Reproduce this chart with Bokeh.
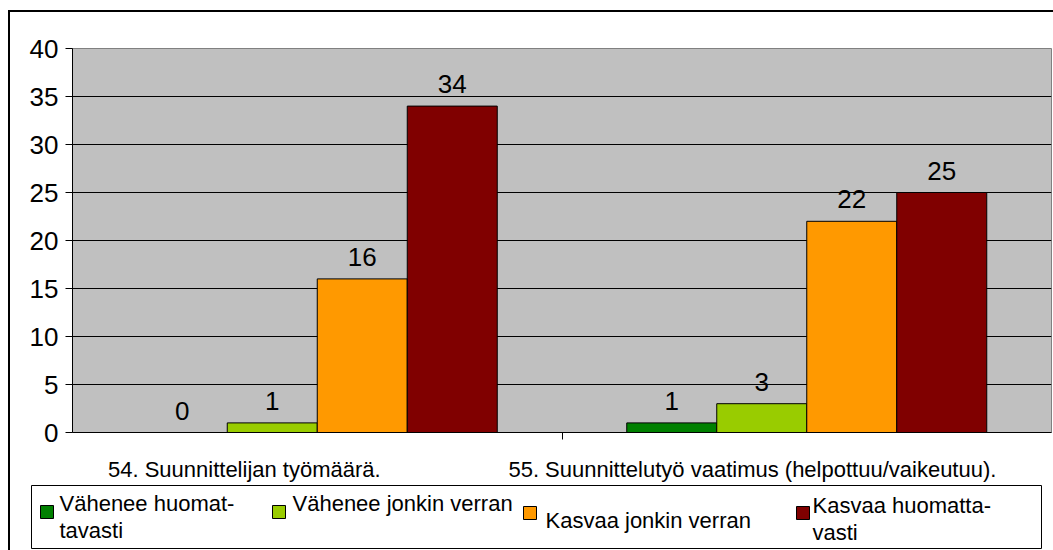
from bokeh.plotting import figure
from bokeh.models import Range1d, FixedTicker, ColumnDataSource
from bokeh.layouts import column
from bokeh.core.properties import value
from bokeh.embed import file_html
from bokeh.resources import INLINE

# ---------------- data ----------------
categories = ["54. Suunnittelijan työmäärä.",
              "55. Suunnittelutyö vaatimus (helpottuu/vaikeutuu)."]
series = ["Vähenee huomat-\ntavasti", "Vähenee jonkin verran",
          "Kasvaa jonkin verran", "Kasvaa huomatta-\nvasti"]
vahenee_huomattavasti = [0, 1]
vahenee_jonkin_verran = [1, 3]
kasvaa_jonkin_verran = [16, 22]
kasvaa_huomattavasti = [34, 25]
y_ticks = [0, 5, 10, 15, 20, 25, 30, 35, 40]

values = [vahenee_huomattavasti, vahenee_jonkin_verran,
          kasvaa_jonkin_verran, kasvaa_huomattavasti]
colors = ["#008000", "#99CC00", "#FF9900", "#800000"]

FONT = "Liberation Sans"

# ---------------- main chart ----------------
p = figure(width=1043, height=472, x_range=Range1d(0, 2), y_range=Range1d(0, 40),
           output_backend="svg", toolbar_location=None,
           min_border_left=62, min_border_right=2, min_border_top=36, min_border_bottom=50)
p.background_fill_color = "#C0C0C0"
p.border_fill_color = "white"
p.outline_line_color = "#808080"
p.outline_line_width = 1

bw = 90 / 489.5  # bar width in category units
for j, (vals, col) in enumerate(zip(values, colors)):
    xs = [i + 0.5 + (j - 1.5) * bw for i in range(len(categories))]
    src = ColumnDataSource(dict(x=xs, top=vals, lab=[str(v) for v in vals]))
    p.vbar(x="x", top="top", bottom=0, width=bw, source=src,
           fill_color=col, line_color="black", line_width=1)
    p.text(x="x", y="top", text="lab", source=src, text_align="center",
           text_baseline="alphabetic", y_offset=-22,
           text_font=value(FONT), text_font_size="26px", text_color="black")

# y axis
p.yaxis.ticker = FixedTicker(ticks=y_ticks)
p.yaxis.axis_line_color = "black"
p.yaxis.major_tick_line_color = "black"
p.yaxis.major_tick_out = 7
p.yaxis.major_tick_in = 0
p.yaxis.minor_tick_line_color = None
p.yaxis.major_label_standoff = 7
p.yaxis.major_label_text_font = FONT
p.yaxis.major_label_text_font_size = "26px"
p.yaxis.major_label_text_color = "black"

p.ygrid.ticker = FixedTicker(ticks=y_ticks)
p.ygrid.grid_line_color = "black"
p.ygrid.grid_line_width = 1
p.xgrid.visible = False

# x axis: category labels + boundary tick
label_pos = [0.351, 1.389]
p.xaxis.ticker = FixedTicker(ticks=label_pos, minor_ticks=[1.0])
p.xaxis.major_label_overrides = {label_pos[i]: categories[i] for i in range(len(categories))}
p.xaxis.axis_line_color = "black"
p.xaxis.major_tick_line_color = None
p.xaxis.major_tick_out = 0
p.xaxis.major_tick_in = 0
p.xaxis.minor_tick_line_color = "black"
p.xaxis.minor_tick_out = 7
p.xaxis.minor_tick_in = 0
p.xaxis.major_label_standoff = 17
p.xaxis.major_label_text_font = FONT
p.xaxis.major_label_text_font_size = "22px"
p.xaxis.major_label_text_color = "black"

# ---------------- legend (pixel coordinates of page) ----------------
leg = figure(width=1043, height=66, x_range=Range1d(10, 1053), y_range=Range1d(550, 484),
             output_backend="svg", toolbar_location=None,
             x_axis_location=None, y_axis_location=None,
             min_border=0, min_border_left=0, min_border_right=0,
             min_border_top=0, min_border_bottom=0)
leg.grid.visible = False
leg.outline_line_color = None
leg.background_fill_color = "white"
leg.border_fill_color = "white"

leg.quad(left=31, right=1041, top=485, bottom=548, fill_color=None,
         line_color="#000000", line_width=1)

sq_x = [46.5, 278.5, 529.5, 802.5]
sq_y = [511.5, 511.5, 512.5, 512.5]
leg.rect(x=sq_x, y=sq_y, width=13, height=13, fill_color=colors,
         line_color="black", line_width=1)

txt_x = [59, 292, 545, 812]
txt_y0 = [503, 503, 520, 505]
line_gap = 27
tx, ty, tt = [], [], []
for k, lab in enumerate(series):
    for n, line in enumerate(lab.split("\n")):
        tx.append(txt_x[k])
        ty.append(txt_y0[k] + n * line_gap)
        tt.append(line)
leg.text(x=tx, y=ty, text=tt, text_align="left", text_baseline="alphabetic",
         text_font=value(FONT), text_font_size="22px", text_color="black")

top_block = column(p, styles={"border-left": "2px solid black",
                              "border-top": "2px solid black",
                              "margin-left": "8px", "margin-top": "10px"})
bottom_block = column(leg, styles={"border-left": "2px solid black",
                                   "margin-left": "8px"})

open("out.html", "w").write(file_html([top_block, bottom_block], INLINE))
